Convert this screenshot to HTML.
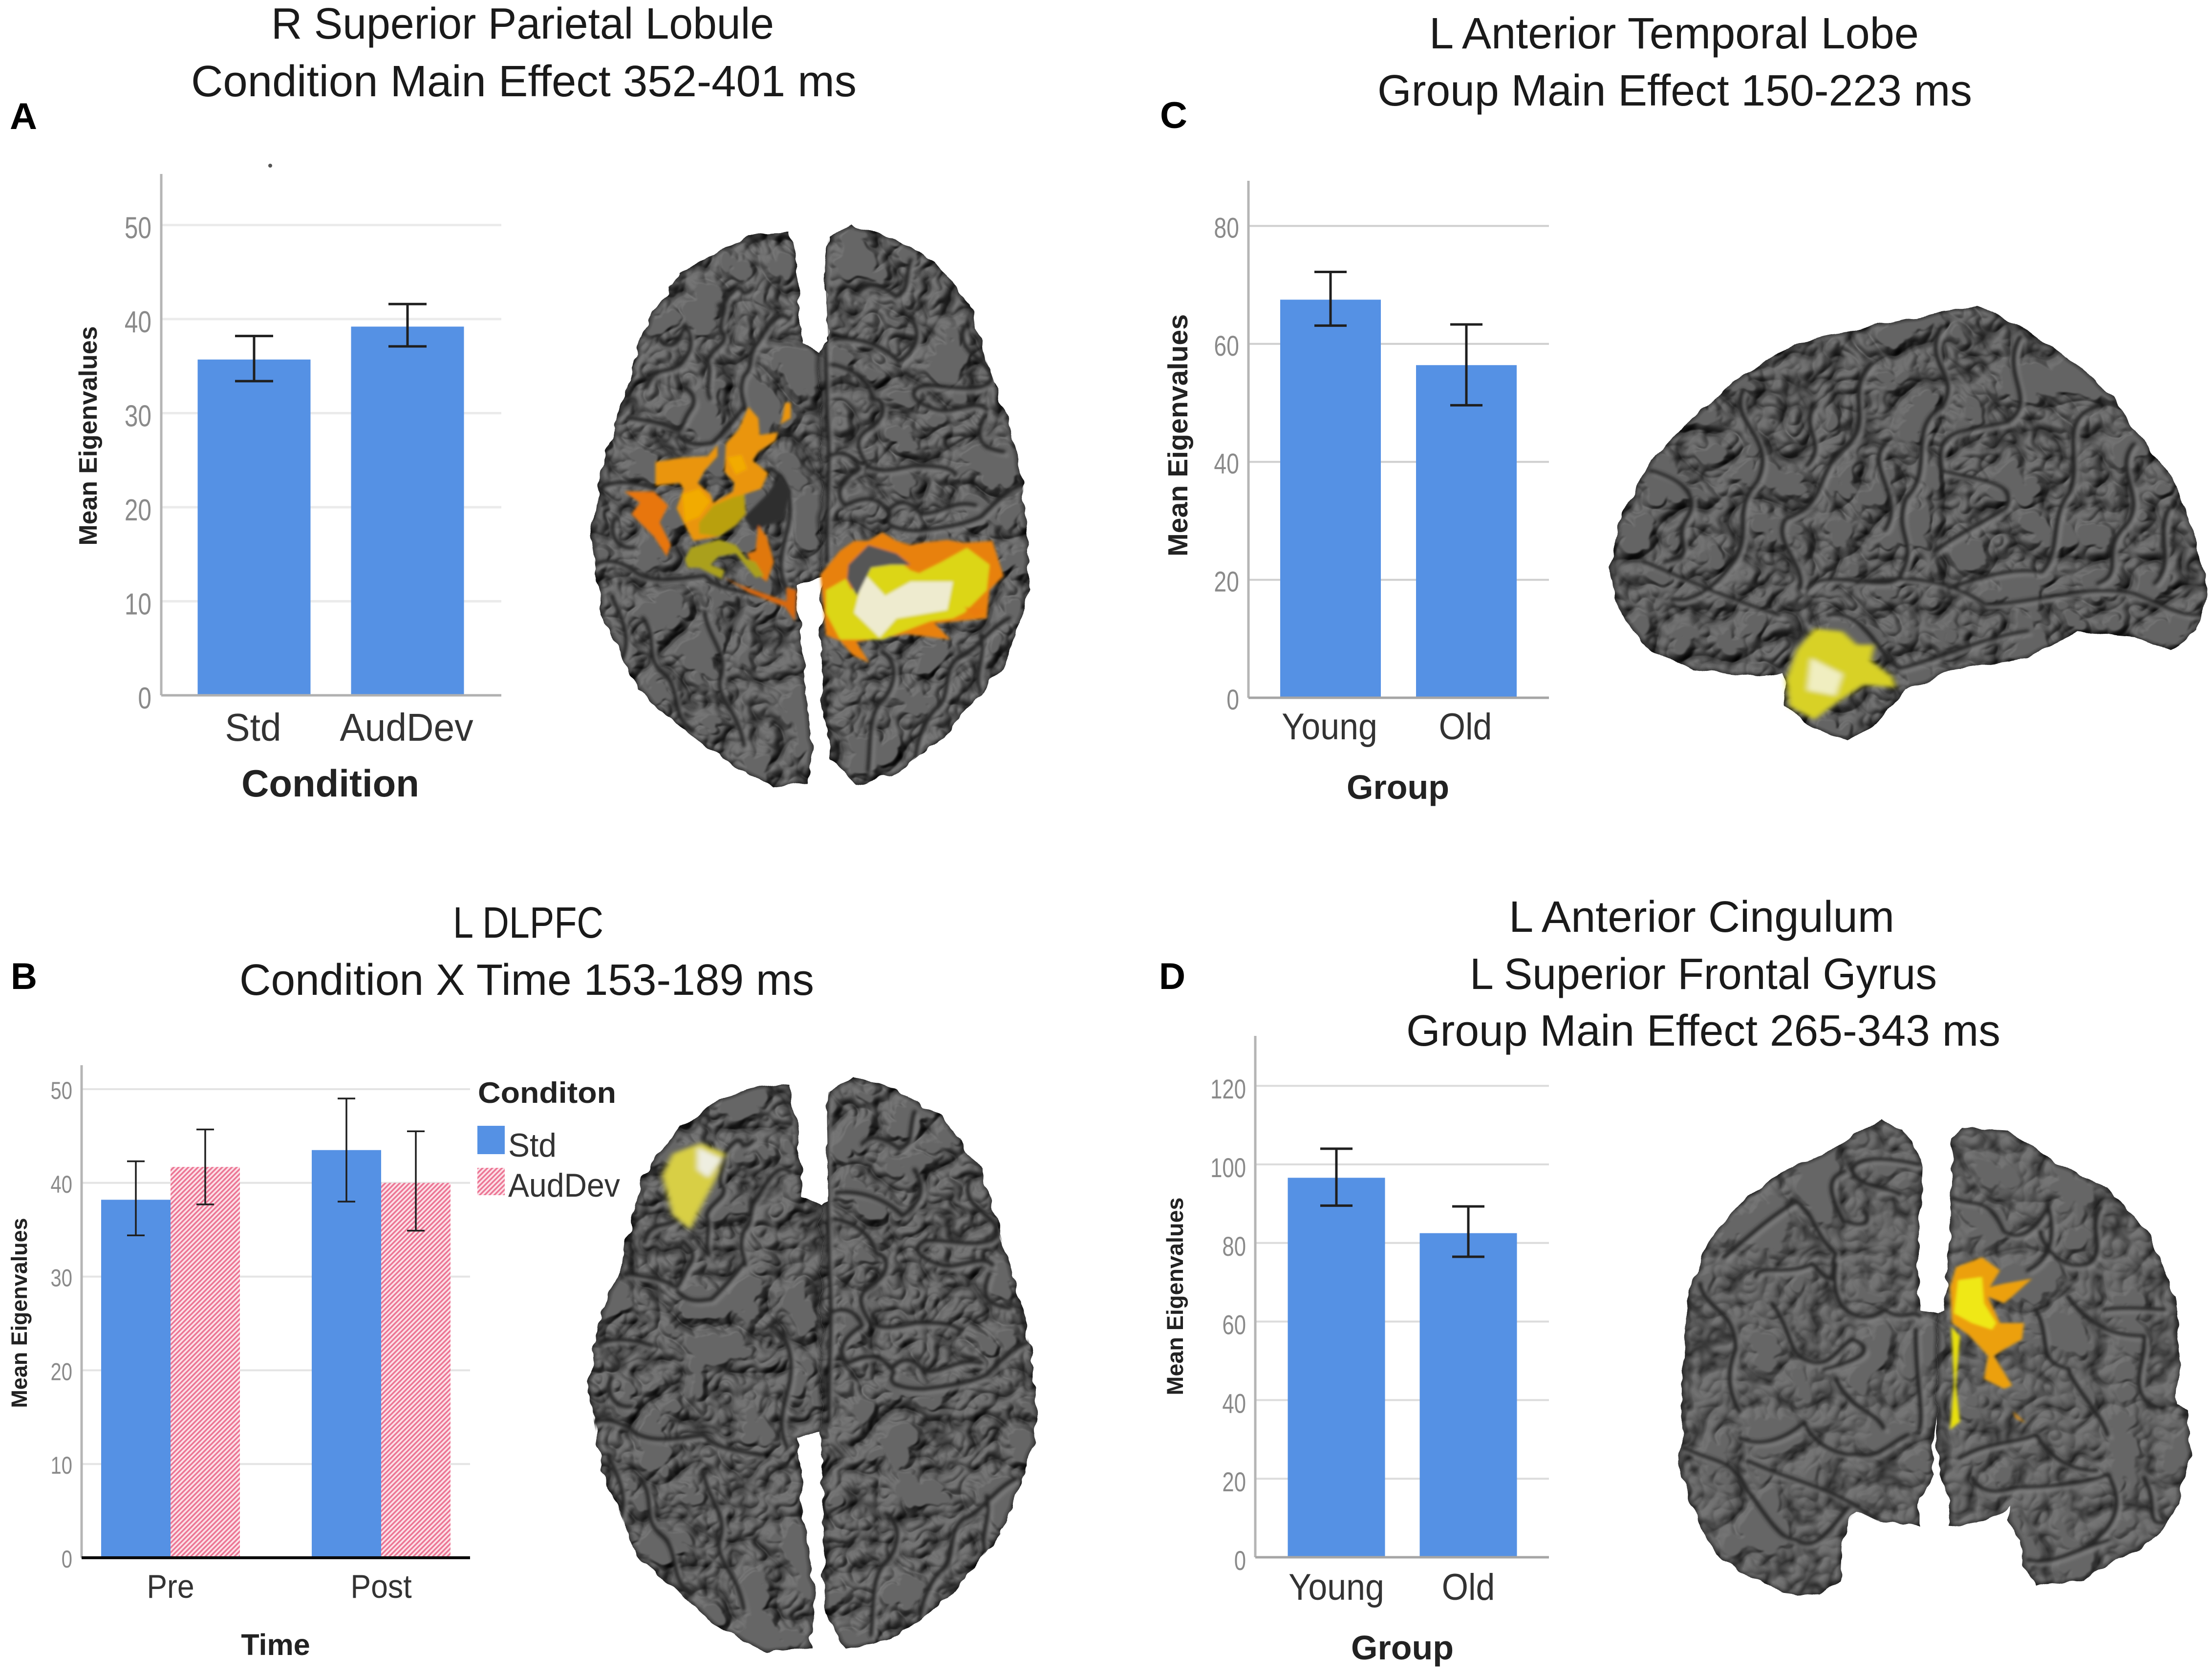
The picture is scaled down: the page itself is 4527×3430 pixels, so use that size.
<!DOCTYPE html>
<html lang="en">
<head>
<meta charset="utf-8">
<title>Mean eigenvalues and source activation panels</title>
<style>
html,body{margin:0;padding:0;background:#fff;width:4527px;height:3430px;overflow:hidden}
svg{display:block}
text{font-family:"Liberation Sans",sans-serif}
.title{font-size:90px;fill:#1a1a1a}
.letter{font-size:76px;font-weight:bold;fill:#000}
.sulci-dark{fill:none;stroke:#262626;stroke-linecap:round;stroke-linejoin:round}
.sulci-light{fill:none;stroke:#858585;stroke-linecap:round;stroke-linejoin:round;opacity:.75}
</style>
</head>
<body>
<svg id="figure" xmlns="http://www.w3.org/2000/svg" width="4527" height="3430" viewBox="0 0 4527 3430">
<defs>
<pattern id="hatch" patternUnits="userSpaceOnUse" width="7" height="7" patternTransform="rotate(45)">
<rect width="7" height="7" fill="#fce1e8"/>
<rect width="3.4" height="7" fill="#ec7594"/>
</pattern>
<filter id="soft" x="-20%" y="-20%" width="140%" height="140%"><feGaussianBlur stdDeviation="4"/></filter>
<filter id="soft-fine" x="-20%" y="-20%" width="140%" height="140%"><feGaussianBlur stdDeviation="5"/></filter>
<filter id="line-blur" filterUnits="userSpaceOnUse" x="-500" y="-500" width="6000" height="6000"><feGaussianBlur stdDeviation="3.5"/></filter>
<filter id="cortex-a" x="-5%" y="-5%" width="110%" height="110%" color-interpolation-filters="sRGB">
<feTurbulence type="fractalNoise" baseFrequency="0.035" numOctaves="2" seed="3" result="w"/>
<feDisplacementMap in="SourceGraphic" in2="w" scale="14" xChannelSelector="R" yChannelSelector="G" result="shape"/>
<feTurbulence type="turbulence" baseFrequency="0.0145 0.011" numOctaves="3" seed="11" result="n"/>
<feColorMatrix in="n" type="matrix" values="0 0 0 0 0 0 0 0 0 0 0 0 0 0 0 0 0 0 2.4 0" result="h0"/>
<feGaussianBlur in="h0" stdDeviation="1.5" result="h"/>
<feDiffuseLighting in="h" surfaceScale="9" lighting-color="#757575" result="lit"><feDistantLight azimuth="235" elevation="60"/></feDiffuseLighting>
<feColorMatrix in="h" type="matrix" values="0 0 0 1.2 0.45 0 0 0 1.2 0.45 0 0 0 1.2 0.45 0 0 0 0 1" result="groove"/>
<feComposite in="lit" in2="groove" operator="arithmetic" k1="1" result="l2"/>
<feGaussianBlur in="shape" stdDeviation="7" result="b"/>
<feColorMatrix in="b" type="matrix" values="0 0 0 1.15 0 0 0 0 1.15 0 0 0 0 1.15 0 0 0 0 0 1" result="edge"/>
<feComposite in="l2" in2="edge" operator="arithmetic" k1="1" result="shaded"/>
<feComposite in="shaded" in2="shape" operator="in"/>
</filter>
<filter id="cortex-b" x="-5%" y="-5%" width="110%" height="110%" color-interpolation-filters="sRGB">
<feTurbulence type="fractalNoise" baseFrequency="0.035" numOctaves="2" seed="5" result="w"/>
<feDisplacementMap in="SourceGraphic" in2="w" scale="14" xChannelSelector="R" yChannelSelector="G" result="shape"/>
<feTurbulence type="turbulence" baseFrequency="0.0145 0.011" numOctaves="3" seed="29" result="n"/>
<feColorMatrix in="n" type="matrix" values="0 0 0 0 0 0 0 0 0 0 0 0 0 0 0 0 0 0 2.4 0" result="h0"/>
<feGaussianBlur in="h0" stdDeviation="1.5" result="h"/>
<feDiffuseLighting in="h" surfaceScale="9" lighting-color="#757575" result="lit"><feDistantLight azimuth="235" elevation="60"/></feDiffuseLighting>
<feColorMatrix in="h" type="matrix" values="0 0 0 1.2 0.45 0 0 0 1.2 0.45 0 0 0 1.2 0.45 0 0 0 0 1" result="groove"/>
<feComposite in="lit" in2="groove" operator="arithmetic" k1="1" result="l2"/>
<feGaussianBlur in="shape" stdDeviation="7" result="b"/>
<feColorMatrix in="b" type="matrix" values="0 0 0 1.15 0 0 0 0 1.15 0 0 0 0 1.15 0 0 0 0 0 1" result="edge"/>
<feComposite in="l2" in2="edge" operator="arithmetic" k1="1" result="shaded"/>
<feComposite in="shaded" in2="shape" operator="in"/>
</filter>
<filter id="cortex-c" x="-5%" y="-5%" width="110%" height="110%" color-interpolation-filters="sRGB">
<feTurbulence type="fractalNoise" baseFrequency="0.03" numOctaves="2" seed="8" result="w"/>
<feDisplacementMap in="SourceGraphic" in2="w" scale="12" xChannelSelector="R" yChannelSelector="G" result="shape"/>
<feTurbulence type="turbulence" baseFrequency="0.0135 0.0105" numOctaves="3" seed="47" result="n"/>
<feColorMatrix in="n" type="matrix" values="0 0 0 0 0 0 0 0 0 0 0 0 0 0 0 0 0 0 2.4 0" result="h0"/>
<feGaussianBlur in="h0" stdDeviation="1.5" result="h"/>
<feDiffuseLighting in="h" surfaceScale="9" lighting-color="#727272" result="lit"><feDistantLight azimuth="235" elevation="60"/></feDiffuseLighting>
<feColorMatrix in="h" type="matrix" values="0 0 0 1.2 0.45 0 0 0 1.2 0.45 0 0 0 1.2 0.45 0 0 0 0 1" result="groove"/>
<feComposite in="lit" in2="groove" operator="arithmetic" k1="1" result="l2"/>
<feGaussianBlur in="shape" stdDeviation="7" result="b"/>
<feColorMatrix in="b" type="matrix" values="0 0 0 1.15 0 0 0 0 1.15 0 0 0 0 1.15 0 0 0 0 0 1" result="edge"/>
<feComposite in="l2" in2="edge" operator="arithmetic" k1="1" result="shaded"/>
<feComposite in="shaded" in2="shape" operator="in"/>
</filter>
<filter id="cortex-d" x="-5%" y="-5%" width="110%" height="110%" color-interpolation-filters="sRGB">
<feTurbulence type="fractalNoise" baseFrequency="0.02" numOctaves="2" seed="9" result="w"/>
<feDisplacementMap in="SourceGraphic" in2="w" scale="22" xChannelSelector="R" yChannelSelector="G" result="shape"/>
<feTurbulence type="turbulence" baseFrequency="0.0078 0.0064" numOctaves="3" seed="63" result="n"/>
<feColorMatrix in="n" type="matrix" values="0 0 0 0 0 0 0 0 0 0 0 0 0 0 0 0 0 0 2.4 0" result="h0"/>
<feGaussianBlur in="h0" stdDeviation="2.5" result="h"/>
<feDiffuseLighting in="h" surfaceScale="9" lighting-color="#757575" result="lit"><feDistantLight azimuth="235" elevation="60"/></feDiffuseLighting>
<feColorMatrix in="h" type="matrix" values="0 0 0 1.2 0.45 0 0 0 1.2 0.45 0 0 0 1.2 0.45 0 0 0 0 1" result="groove"/>
<feComposite in="lit" in2="groove" operator="arithmetic" k1="1" result="l2"/>
<feGaussianBlur in="shape" stdDeviation="12" result="b"/>
<feColorMatrix in="b" type="matrix" values="0 0 0 1.15 0 0 0 0 1.15 0 0 0 0 1.15 0 0 0 0 0 1" result="edge"/>
<feComposite in="l2" in2="edge" operator="arithmetic" k1="1" result="shaded"/>
<feComposite in="shaded" in2="shape" operator="in"/>
</filter>

<clipPath id="clip-a">
<polygon transform="scale(1.449,1.095)" points="1115,435 1125,500 1130,640 1158,660 1160,1080 1125,1095 1135,1250 1147,1400 1140,1465 1090,1472 1000,1400 900,1290 850,1150 835,1000 850,870 880,750 910,610 960,510 1015,470 1060,440"/>
<polygon transform="scale(1.449,1.095)" points="1170,445 1205,420 1260,445 1320,490 1370,570 1395,680 1425,790 1445,900 1450,1010 1455,1100 1420,1240 1340,1370 1260,1450 1210,1468 1175,1420 1160,1300 1160,1080 1158,660 1170,640 1165,500"/>
</clipPath>
<clipPath id="clip-b">
<polygon transform="translate(0,1715) scale(1.449,1.095)" points="1115,460 1125,520 1135,670 1160,690 1160,1110 1125,1120 1135,1270 1150,1400 1145,1515 1080,1522 1000,1460 900,1340 850,1180 830,1020 850,890 880,780 905,640 960,540 1015,490 1070,465"/>
<polygon transform="translate(0,1715) scale(1.449,1.095)" points="1170,475 1205,445 1265,470 1330,520 1385,620 1415,750 1435,830 1455,950 1465,1060 1460,1130 1420,1290 1340,1420 1260,1500 1195,1515 1165,1450 1160,1120 1160,690 1170,680 1168,520"/>
</clipPath>
<clipPath id="clip-c">
<polygon transform="translate(2260,0) scale(1.453,1.095)" points="710,1060 730,960 770,860 830,780 900,700 980,640 1080,610 1170,585 1230,572 1290,610 1350,660 1420,740 1450,800 1500,880 1530,970 1555,1100 1540,1180 1500,1215 1450,1190 1370,1180 1300,1230 1200,1250 1130,1290 1080,1360 1050,1385 1000,1360 960,1320 955,1260 920,1265 830,1250 760,1210 730,1150"/>
</clipPath>
<clipPath id="clip-d">
<polygon transform="translate(3250,2250) scale(0.8186,0.673)" points="735,58 790,90 835,190 830,340 825,560 835,640 870,650 870,960 862,1050 865,1140 830,1210 830,1300 800,1290 730,1285 670,1250 635,1330 630,1460 575,1510 480,1500 400,1450 320,1385 265,1260 225,1100 235,1040 235,850 250,600 300,430 400,290 500,210 600,160 690,90"/>
<polygon transform="translate(3250,2250) scale(0.8186,0.673)" points="910,120 935,85 1050,95 1170,190 1300,270 1400,400 1470,600 1480,800 1470,930 1500,945 1505,1080 1475,1230 1420,1330 1330,1400 1240,1460 1120,1480 1090,1420 1085,1340 1050,1280 1060,1240 970,1290 900,1295 905,1220 878,1140 870,1010 870,650 890,640 905,400"/>
</clipPath>

<path id="sulci-top" d="M470,390 C520,370 470,430 480,480 C520,520 440,540 430,590 C450,620 420,680 440,720 M590,330 C540,380 560,300 520,340 C490,370 480,400 470,420 M720,440 C680,400 640,470 610,520 C570,560 600,600 560,640 C540,700 560,720 565,760 M150,790 C220,800 280,810 310,830 C340,850 340,800 370,760 C400,720 370,700 350,680 M260,510 C300,560 330,520 350,460 C390,520 370,560 330,600 C280,640 240,600 215,680 M330,850 C370,900 420,880 445,880 C500,830 520,800 560,750 M650,970 C720,1000 740,1100 710,1200 C690,1280 680,1330 710,1390 M60,1030 C120,1010 180,1020 240,1040 M20,1320 C60,1280 130,1300 180,1340 C240,1380 330,1360 420,1350 C470,1400 530,1400 620,1420 M100,1150 C80,1210 120,1260 170,1250 M850,170 C840,300 850,500 855,780 C870,950 850,1100 855,1300 M1150,230 C1130,300 1150,330 1100,360 C1060,330 1000,300 970,340 M1150,430 C1200,500 1160,550 1110,590 C1080,560 1000,500 880,510 M1340,470 C1310,560 1440,590 1440,650 C1400,720 1240,660 1180,680 C1140,700 1170,740 1240,760 C1300,780 1380,720 1420,760 M870,600 C960,620 1000,660 1020,720 C1080,740 1050,800 1000,830 C950,860 960,900 1000,960 C1040,990 1100,970 1160,960 C1220,960 1290,960 1310,990 M850,930 C900,900 950,920 970,970 C900,1010 880,1060 920,1100 C1000,1060 1040,1080 1070,1120 C1110,1070 1150,1090 1190,1130 C1260,1130 1300,1080 1380,1100 M1080,1130 C1050,1170 1100,1190 1180,1190 C1260,1180 1340,1170 1400,1140 C1460,1080 1500,1040 1540,1030 M1410,790 C1380,860 1400,900 1480,910 M200,1500 C260,1570 200,1640 280,1700 C340,1760 300,1850 380,1900 M420,1480 C440,1580 500,1620 480,1700 C450,1780 540,1820 560,1950 M90,1420 C130,1500 160,1570 130,1640 M1500,1500 C1420,1540 1380,1620 1320,1640 C1260,1680 1300,1780 1240,1820 C1200,1860 1160,1950 1170,2040 M1050,1620 C1120,1660 1090,1760 1040,1800 C1000,1860 1010,1950 1000,2040 M1400,1560 C1420,1640 1370,1700 1400,1760"/>
<path id="sulci-side" d="M900,730 C880,790 950,820 920,900 C880,960 920,1000 880,1060 C860,1100 820,1130 800,1120 M1080,680 C1040,740 1090,790 1040,840 C1000,890 1020,940 960,970 C940,1010 990,1060 980,1100 M1180,610 C1150,680 1210,700 1180,760 C1130,800 1170,880 1130,930 C1110,1000 1150,1010 1120,1080 C1100,1110 1010,1060 990,1100 M1290,630 C1260,700 1320,750 1270,790 C1200,810 1170,800 1180,880 C1230,900 1290,900 1270,950 C1220,990 1200,1000 1170,1030 M1400,760 C1340,780 1380,860 1360,920 C1330,970 1350,1030 1320,1070 C1280,1060 1230,1080 1190,1100 M1450,830 C1420,880 1470,930 1440,980 C1400,1030 1440,1070 1400,1090 M770,880 C820,900 840,930 820,970 C800,1010 840,1040 790,1050 M1060,1090 C1130,1070 1200,1090 1240,1130 C1310,1130 1380,1090 1450,1110 C1490,1130 1510,1150 1540,1150 M1020,1150 C1070,1140 1090,1220 1120,1250 C1180,1230 1240,1190 1300,1180 M760,1050 C830,1090 880,1120 950,1150 M1500,950 C1480,1000 1510,1050 1480,1090 M1100,830 C1070,870 1130,930 1100,990 M1000,760 C980,800 1020,830 990,870"/>
<path id="sulci-front" d="M830,200 C760,180 680,170 660,210 C680,280 740,260 780,290 M640,220 C590,240 610,300 640,370 C700,400 710,360 690,340 M340,480 C400,420 440,370 520,310 C580,370 560,400 620,470 C600,520 640,600 560,500 C500,540 420,500 420,540 M460,620 C510,700 500,760 540,790 C600,830 620,760 660,730 C720,760 690,790 590,820 M280,560 C300,650 370,640 370,760 C340,850 360,900 380,950 M620,500 C600,640 680,700 740,640 C790,680 800,640 830,660 M380,1030 C440,1070 520,1010 540,980 C560,1040 620,1090 670,1080 C720,1100 760,1040 800,1020 M620,850 C660,950 720,950 740,1000 M240,1060 C320,1110 360,1090 400,1190 C450,1270 480,1340 520,1340 C560,1380 600,1320 650,1240 M400,1100 C500,1160 620,1180 720,1280 M820,700 C820,850 840,950 830,1000 M910,300 C960,330 1000,290 1040,400 C1100,460 1160,310 1150,320 C1180,460 1130,500 1100,520 M1130,400 C1150,480 1200,520 1250,500 C1300,460 1250,400 1280,330 M1120,640 C1160,720 1120,800 1200,820 C1230,900 1280,950 1300,1020 M1290,640 C1350,630 1420,640 1440,640 M1200,600 C1260,700 1320,720 1390,720 C1400,800 1340,880 1420,940 M930,1090 C1000,1040 1060,1050 1120,1020 C1160,1090 1200,1130 1270,1130 M1060,1180 C1150,1180 1240,1170 1300,1140 C1340,1220 1330,1300 1230,1370 M960,1150 C1000,1230 1060,1170 1100,1180 M1390,1150 C1430,1230 1390,1290 1440,1290 M1100,1400 C1150,1420 1200,1380 1300,1340"/>
</defs>

<!-- Titles and panel letters -->
<g>
<text class="title" x="555" y="79" textLength="1029" lengthAdjust="spacingAndGlyphs">R Superior Parietal Lobule</text>
<text class="title" x="391" y="197" textLength="1362" lengthAdjust="spacingAndGlyphs">Condition Main Effect 352-401 ms</text>
<text class="letter" x="20" y="264" textLength="56" lengthAdjust="spacingAndGlyphs">A</text>
</g>
<g>
<text class="title" x="927" y="1919" textLength="308" lengthAdjust="spacingAndGlyphs">L DLPFC</text>
<text class="title" x="490" y="2036" textLength="1176" lengthAdjust="spacingAndGlyphs">Condition X Time 153-189 ms</text>
<text class="letter" x="22" y="2024" textLength="54" lengthAdjust="spacingAndGlyphs">B</text>
</g>
<g>
<text class="title" x="2925" y="99" textLength="1002" lengthAdjust="spacingAndGlyphs">L Anterior Temporal Lobe</text>
<text class="title" x="2819" y="216" textLength="1217" lengthAdjust="spacingAndGlyphs">Group Main Effect 150-223 ms</text>
<text class="letter" x="2374" y="262" textLength="56" lengthAdjust="spacingAndGlyphs">C</text>
</g>
<g>
<text class="title" x="3088" y="1907" textLength="789" lengthAdjust="spacingAndGlyphs">L Anterior Cingulum</text>
<text class="title" x="3008" y="2024" textLength="956" lengthAdjust="spacingAndGlyphs">L Superior Frontal Gyrus</text>
<text class="title" x="2878" y="2140" textLength="1216" lengthAdjust="spacingAndGlyphs">Group Main Effect 265-343 ms</text>
<text class="letter" x="2372" y="2024" textLength="54" lengthAdjust="spacingAndGlyphs">D</text>
</g>

<!-- Brain A -->
<g transform="scale(1.449,1.095)">
<polygon filter="url(#cortex-a)" fill="#000" points="1115,435 1125,500 1130,640 1158,660 1160,1080 1125,1095 1135,1250 1147,1400 1140,1465 1090,1472 1000,1400 900,1290 850,1150 835,1000 850,870 880,750 910,610 960,510 1015,470 1060,440"/>
<polygon filter="url(#cortex-a)" fill="#000" points="1170,445 1205,420 1260,445 1320,490 1370,570 1395,680 1425,790 1445,900 1450,1010 1455,1100 1420,1240 1340,1370 1260,1450 1210,1468 1175,1420 1160,1300 1160,1080 1158,660 1170,640 1165,500"/>
</g>
<g clip-path="url(#clip-a)">
<g filter="url(#line-blur)">
<use href="#sulci-top" class="sulci-light" stroke-width="12" transform="translate(1207,407) scale(0.577)"/>
<use href="#sulci-top" class="sulci-dark" stroke-width="16" transform="translate(1200,400) scale(0.577)"/>
</g>
</g>
<g transform="translate(1200,400) scale(0.577)" filter="url(#soft-fine)">
<path fill="#2e2e2e" d="M690,990 L725,1050 L700,1150 L640,1170 L590,1190 L560,1140 L640,1060 Z"/>
<path fill="#ea950a" d="M575,750 L610,790 L615,850 L680,840 L695,790 L705,735 L725,735 L725,790 L690,810 L670,870 L610,910 L590,940 L645,985 L620,1040 L560,1060 L565,1130 L530,1170 L470,1210 L380,1225 L350,1170 L320,1110 L345,1040 L330,1020 L245,1030 L245,945 L340,930 L430,925 L465,885 L465,925 L420,975 L395,1020 L440,1060 L450,1090 L520,1050 L525,1020 L490,980 L495,880 L540,830 Z"/>
<path fill="#b9a010" d="M400,1160 L450,1100 L520,1070 L560,1060 L565,1130 L530,1170 L470,1210 L400,1200 Z"/>
<path fill="#f2ab00" d="M340,1060 L400,1040 L440,1085 L400,1140 L350,1160 Z M500,930 L550,920 L570,970 L530,990 Z"/>
<path fill="#e8760c" d="M135,1050 L240,1050 L290,1100 L260,1160 L300,1240 L285,1280 L240,1210 L160,1130 L190,1090 Z"/>
<path fill="#e07810" d="M610,1170 L640,1210 L665,1300 L640,1370 L600,1340 L570,1270 L600,1260 Z"/>
<path fill="#aaa01a" d="M350,1290 L370,1250 L470,1220 L530,1240 L570,1290 L600,1300 L630,1350 L600,1355 L530,1270 L470,1280 L440,1310 L490,1330 L480,1360 L400,1320 L360,1320 Z"/>
<path fill="#d8680e" d="M480,1350 L540,1380 L710,1440 L710,1390 L745,1400 L740,1510 L705,1460 L580,1410 Z"/>
<path fill="#e8810c" d="M830,1345 L900,1260 L950,1225 L1000,1225 L1050,1195 L1100,1225 L1150,1240 L1200,1230 L1280,1222 L1340,1232 L1440,1225 L1480,1350 L1430,1400 L1420,1500 L1235,1518 L1291,1575 L1135,1556 L958,1584 L1003,1657 L946,1631 L900,1580 L850,1560 Z"/>
<path fill="#dcd618" d="M850,1400 L920,1360 L940,1400 L985,1320 L1000,1270 L1100,1290 L1150,1330 L1180,1340 L1260,1300 L1350,1250 L1430,1310 L1420,1400 L1340,1480 L1300,1500 L1220,1510 L1050,1575 L900,1575 L850,1480 Z"/>
<path fill="#eeebcf" d="M985,1340 L1060,1420 L1150,1370 L1300,1370 L1280,1470 L1100,1500 L1040,1568 L950,1480 Z"/>
<path fill="#565656" d="M930,1310 L1000,1240 L1100,1270 L1150,1310 L1080,1310 L1010,1320 L985,1370 L960,1420 L925,1360 Z"/>
<path fill="#ea7c10" d="M1340,1460 L1420,1470 L1380,1495 Z"/>
</g>

<!-- Brain B -->
<g transform="translate(0,1715) scale(1.449,1.095)">
<polygon filter="url(#cortex-b)" fill="#000" points="1115,460 1125,520 1135,670 1160,690 1160,1110 1125,1120 1135,1270 1150,1400 1145,1515 1080,1522 1000,1460 900,1340 850,1180 830,1020 850,890 880,780 905,640 960,540 1015,490 1070,465"/>
<polygon filter="url(#cortex-b)" fill="#000" points="1170,475 1205,445 1265,470 1330,520 1385,620 1415,750 1435,830 1455,950 1465,1060 1460,1130 1420,1290 1340,1420 1260,1500 1195,1515 1165,1450 1160,1120 1160,690 1170,680 1168,520"/>
</g>
<g clip-path="url(#clip-b)">
<g filter="url(#line-blur)">
<use href="#sulci-top" class="sulci-light" stroke-width="12" transform="translate(1199,2147) scale(0.591)"/>
<use href="#sulci-top" class="sulci-dark" stroke-width="16" transform="translate(1192,2140) scale(0.591)"/>
</g>
</g>
<g transform="translate(0,1715) scale(1.449,1.095)" filter="url(#soft)">
<polygon fill="#d8cf45" points="990,570 1025,590 1010,640 990,690 975,732 950,705 935,630 950,590"/>
<polygon fill="#eeeee0" points="985,578 1020,600 1000,635 985,620"/>
</g>

<!-- Brain C -->
<g transform="translate(2260,0) scale(1.453,1.095)">
<polygon filter="url(#cortex-c)" fill="#000" points="710,1060 730,960 770,860 830,780 900,700 980,640 1080,610 1170,585 1230,572 1290,610 1350,660 1420,740 1450,800 1500,880 1530,970 1555,1100 1540,1180 1500,1215 1450,1190 1370,1180 1300,1230 1200,1250 1130,1290 1080,1360 1050,1385 1000,1360 960,1320 955,1260 920,1265 830,1250 760,1210 730,1150"/>
</g>
<g clip-path="url(#clip-c)">
<g filter="url(#line-blur)">
<use href="#sulci-side" class="sulci-light" stroke-width="6" transform="translate(2267,7) scale(1.453,1.095)"/>
<use href="#sulci-side" class="sulci-dark" stroke-width="7" transform="translate(2260,0) scale(1.453,1.095)"/>
</g>
</g>
<g transform="translate(2260,0) scale(1.453,1.095)" filter="url(#soft)">
<polygon fill="#d8d128" points="1000,1175 1040,1180 1060,1205 1085,1205 1080,1235 1110,1265 1115,1285 1070,1280 1035,1310 1000,1345 965,1320 960,1270 975,1215"/>
<polygon fill="#f0eec0" points="995,1230 1040,1260 1030,1300 990,1290"/>
</g>

<!-- Brain D -->
<g transform="translate(3250,2250) scale(0.8186,0.673)">
<polygon filter="url(#cortex-d)" fill="#000" points="735,58 790,90 835,190 830,340 825,560 835,640 870,650 870,960 862,1050 865,1140 830,1210 830,1300 800,1290 730,1285 670,1250 635,1330 630,1460 575,1510 480,1500 400,1450 320,1385 265,1260 225,1100 235,1040 235,850 250,600 300,430 400,290 500,210 600,160 690,90"/>
<polygon filter="url(#cortex-d)" fill="#000" points="910,120 935,85 1050,95 1170,190 1300,270 1400,400 1470,600 1480,800 1470,930 1500,945 1505,1080 1475,1230 1420,1330 1330,1400 1240,1460 1120,1480 1090,1420 1085,1340 1050,1280 1060,1240 970,1290 900,1295 905,1220 878,1140 870,1010 870,650 890,640 905,400"/>
</g>
<g clip-path="url(#clip-d)">
<g filter="url(#line-blur)">
<use href="#sulci-front" class="sulci-light" stroke-width="10" transform="translate(3257,2257) scale(0.8186,0.673)"/>
<use href="#sulci-front" class="sulci-dark" stroke-width="12" transform="translate(3250,2250) scale(0.8186,0.673)"/>
</g>
</g>
<g transform="translate(3250,2250) scale(0.8186,0.673)" filter="url(#soft)">
<polygon fill="#eca010" points="920,510 985,480 1030,520 1005,570 1040,560 1110,545 1060,600 1040,620 1000,600 1030,680 1090,680 1085,730 1040,760 1015,780 1060,870 1040,880 990,850 1000,780 970,740 950,715 910,680 905,570"/>
<polygon fill="#efe815" points="925,550 985,540 990,620 1020,680 1010,700 960,680 915,650"/>
<polygon fill="#e8e010" points="908,690 930,720 920,870 930,980 905,1005 915,860"/>
<polygon fill="#d98a10" points="1062,948 1095,985 1070,970"/>
</g>

<!-- Legend in panel B -->
<g>
<text x="978" y="2257" font-size="60" font-weight="bold" fill="#222" textLength="283" lengthAdjust="spacingAndGlyphs">Conditon</text>
<rect x="977" y="2304" width="56" height="58" fill="#5591e4"/>
<text x="1040" y="2367" font-size="68" fill="#333" textLength="99" lengthAdjust="spacingAndGlyphs">Std</text>
<rect x="977" y="2390" width="56" height="56" fill="url(#hatch)"/>
<text x="1040" y="2449" font-size="68" fill="#333" textLength="229" lengthAdjust="spacingAndGlyphs">AudDev</text>
</g>

<g id="charts"></g>
<circle cx="553" cy="339" r="4" fill="#555"/>
</svg>

<script>
// Panel A
const aCategories = ['Std', 'AudDev'];
const aStd = [35.7, 39.2];
const aStdLower = [33.4, 37.1];
const aStdUpper = [38.2, 41.6];
const aTicks = [0, 10, 20, 30, 40, 50];

// Panel B
const bCategories = ['Pre', 'Post'];
const bStd = [38.2, 43.5];
const bStdLower = [34.4, 38.0];
const bStdUpper = [42.3, 49.0];
const bAudDev = [41.7, 40.0];
const bAudDevLower = [37.7, 34.9];
const bAudDevUpper = [45.7, 45.5];
const bTicks = [0, 10, 20, 30, 40, 50];

// Panel C
const cCategories = ['Young', 'Old'];
const cGroup = [67.5, 56.4];
const cGroupLower = [63.1, 49.6];
const cGroupUpper = [72.2, 63.3];
const cTicks = [0, 20, 40, 60, 80];

// Panel D
const dCategories = ['Young', 'Old'];
const dGroup = [96.6, 82.5];
const dGroupLower = [89.5, 76.5];
const dGroupUpper = [104, 89.3];
const dTicks = [0, 20, 40, 60, 80, 100, 120];

const SVGNS = 'http://www.w3.org/2000/svg';
const chartsRoot = document.getElementById('charts');

function make(tag, parent, attrs) {
  const node = document.createElementNS(SVGNS, tag);
  for (const key in attrs) node.setAttribute(key, attrs[key]);
  parent.appendChild(node);
  return node;
}

function squeezeText(node, ratio) {
  node.setAttribute('textLength', node.getComputedTextLength() * ratio);
  node.setAttribute('lengthAdjust', 'spacingAndGlyphs');
}

function drawPanel(cfg) {
  const panel = make('g', chartsRoot, {});
  
  

  const yScale = function (v) { return cfg.yZero - v * cfg.pxPerUnit; };
  const xBand = function (i) { return cfg.firstCenter + i * cfg.step; };

  cfg.ticks.forEach(function (tick) {
    if (tick !== 0) {
      const grid = make('line', panel, { x1: cfg.xAxis, x2: cfg.xEnd, y1: yScale(tick), y2: yScale(tick), stroke: cfg.gridColor, 'stroke-width': cfg.gridWidth });
      
      
    }
    const label = make('text', panel, { x: cfg.xAxis - cfg.tickGap, y: yScale(tick) + cfg.tickDrop, 'text-anchor': 'end', 'font-size': cfg.tickSize, fill: '#8a8a8a' });
    label.textContent = tick;
    
    
    squeezeText(label, cfg.tickSqueeze);
  });

  cfg.series.forEach(function (s, j) {
    s.values.forEach(function (v, i) {
      const center = xBand(i) + (j - (cfg.series.length - 1) / 2) * cfg.barWidth;
      const bar = make('rect', panel, { x: center - cfg.barWidth / 2, y: yScale(v), width: cfg.barWidth, height: cfg.yZero - yScale(v), fill: s.fill });
      
      
    });
  });

  const yAxis = make('line', panel, { x1: cfg.xAxis, x2: cfg.xAxis, y1: cfg.axisTop, y2: cfg.yZero, stroke: '#b5b5b5', 'stroke-width': 5 });
  
  

  const xAxis = make('line', panel, { x1: cfg.xAxis, x2: cfg.xEnd, y1: cfg.yZero, y2: cfg.yZero, stroke: cfg.baseColor, 'stroke-width': cfg.baseWidth });
  
  

  cfg.series.forEach(function (s, j) {
    s.values.forEach(function (v, i) {
      const center = xBand(i) + (j - (cfg.series.length - 1) / 2) * cfg.barWidth;
      const yLow = yScale(s.lower[i]);
      const yHigh = yScale(s.upper[i]);
      const errorBar = make('path', panel, {
        d: 'M' + (center - cfg.capHalf) + ' ' + yHigh + 'H' + (center + cfg.capHalf) +
           'M' + center + ' ' + yHigh + 'V' + yLow +
           'M' + (center - cfg.capHalf) + ' ' + yLow + 'H' + (center + cfg.capHalf),
        fill: 'none', stroke: '#1f1f1f', 'stroke-width': cfg.errorWidth
      });
      
      
    });
  });

  cfg.categories.forEach(function (cat, i) {
    const catLabel = make('text', panel, { x: xBand(i) + cfg.catShift, y: cfg.catBaseline, 'text-anchor': 'middle', 'font-size': cfg.catSize, fill: '#333' });
    catLabel.textContent = cat;
    
    
    squeezeText(catLabel, cfg.catSqueeze);
  });

  const xTitle = make('text', panel, { x: cfg.xTitleX, y: cfg.xTitleY, 'text-anchor': 'middle', 'font-size': cfg.xTitleSize, 'font-weight': 'bold', fill: '#222' });
  xTitle.textContent = cfg.xTitle;
  
  

  const yTitle = make('text', panel, { transform: 'translate(' + cfg.yTitleX + ',' + cfg.yTitleY + ') rotate(-90)', 'text-anchor': 'middle', 'font-size': cfg.yTitleSize, 'font-weight': 'bold', fill: '#222', textLength: cfg.yTitleLength, lengthAdjust: 'spacingAndGlyphs' });
  yTitle.textContent = 'Mean Eigenvalues';
  
  
}

drawPanel({
  id: 'a', categories: aCategories, ticks: aTicks,
  series: [{ name: 'condition', values: aStd, lower: aStdLower, upper: aStdUpper, fill: '#5591e4' }],
  xAxis: 330, xEnd: 1026, axisTop: 356, yZero: 1423, pxPerUnit: 19.25,
  firstCenter: 520, step: 314, barWidth: 231, capHalf: 39, errorWidth: 5,
  gridColor: '#ebebeb', gridWidth: 5, baseColor: '#b0b0b0', baseWidth: 5,
  tickGap: 20, tickDrop: 27, tickSize: 62, tickSqueeze: 0.8,
  catShift: -2, catBaseline: 1516, catSize: 80, catSqueeze: 0.96,
  xTitle: 'Condition', xTitleX: 676, xTitleY: 1630, xTitleSize: 78,
  yTitleX: 198, yTitleY: 892, yTitleSize: 52, yTitleLength: 449
});

drawPanel({
  id: 'b', categories: bCategories, ticks: bTicks,
  series: [
    { name: 'std', values: bStd, lower: bStdLower, upper: bStdUpper, fill: '#5591e4' },
    { name: 'auddev', values: bAudDev, lower: bAudDevLower, upper: bAudDevUpper, fill: 'url(#hatch)' }
  ],
  xAxis: 167, xEnd: 962, axisTop: 2180, yZero: 3188, pxPerUnit: 19.18,
  firstCenter: 349, step: 431, barWidth: 142, capHalf: 18, errorWidth: 3.5,
  gridColor: '#e4e4e4', gridWidth: 4, baseColor: '#0a0a0a', baseWidth: 6,
  tickGap: 19, tickDrop: 20, tickSize: 50, tickSqueeze: 0.8,
  catShift: 0, catBaseline: 3270, catSize: 68, catSqueeze: 0.92,
  xTitle: 'Time', xTitleX: 564, xTitleY: 3387, xTitleSize: 61,
  yTitleX: 55, yTitleY: 2687, yTitleSize: 45, yTitleLength: 389
});

drawPanel({
  id: 'c', categories: cCategories, ticks: cTicks,
  series: [{ name: 'group', values: cGroup, lower: cGroupLower, upper: cGroupUpper, fill: '#5591e4' }],
  xAxis: 2555, xEnd: 3170, axisTop: 370, yZero: 1428, pxPerUnit: 12.07,
  firstCenter: 2723, step: 278, barWidth: 206, capHalf: 33, errorWidth: 5,
  gridColor: '#cfcfcf', gridWidth: 4, baseColor: '#a5a5a5', baseWidth: 5,
  tickGap: 19, tickDrop: 24, tickSize: 58, tickSqueeze: 0.8,
  catShift: -2, catBaseline: 1513, catSize: 76, catSqueeze: 0.92,
  xTitle: 'Group', xTitleX: 2861, xTitleY: 1635, xTitleSize: 70,
  yTitleX: 2430, yTitleY: 891, yTitleSize: 57, yTitleLength: 496
});

drawPanel({
  id: 'd', categories: dCategories, ticks: dTicks,
  series: [{ name: 'group', values: dGroup, lower: dGroupLower, upper: dGroupUpper, fill: '#5591e4' }],
  xAxis: 2569, xEnd: 3170, axisTop: 2120, yZero: 3187, pxPerUnit: 8.04,
  firstCenter: 2735, step: 270, barWidth: 199, capHalf: 33, errorWidth: 5,
  gridColor: '#dcdcdc', gridWidth: 4, baseColor: '#a5a5a5', baseWidth: 5,
  tickGap: 19, tickDrop: 26, tickSize: 56, tickSqueeze: 0.78,
  catShift: 0, catBaseline: 3274, catSize: 76, catSqueeze: 0.92,
  xTitle: 'Group', xTitleX: 2870, xTitleY: 3396, xTitleSize: 70,
  yTitleX: 2421, yTitleY: 2653, yTitleSize: 47, yTitleLength: 405
});
</script>
</body>
</html>
